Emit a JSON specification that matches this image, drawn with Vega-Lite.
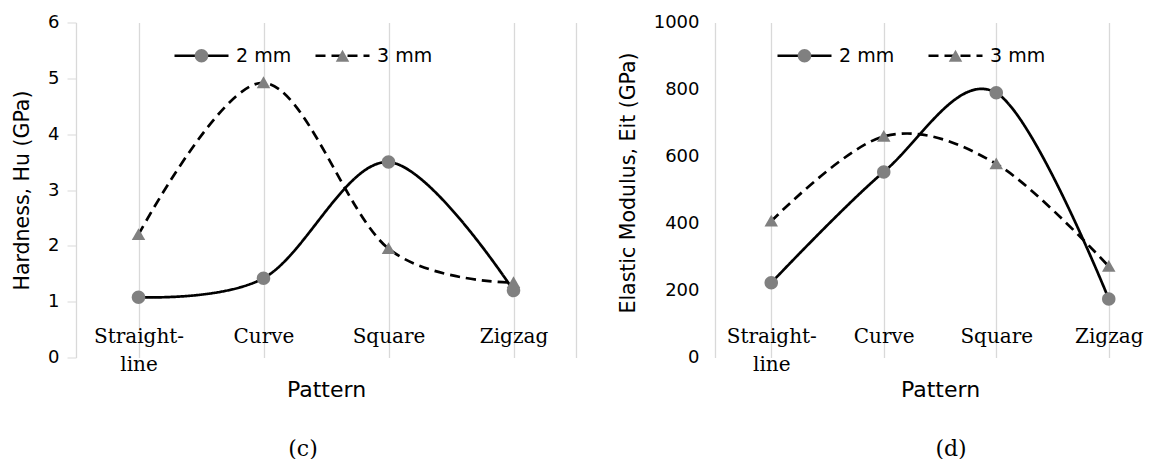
{
  "$schema": "https://vega.github.io/schema/vega-lite/v6.json",
  "padding": {"left": 12, "top": 13.5, "right": 0, "bottom": 0},
  "spacing": 42,
  "datasets": {
    "hard": [
      {"pattern": "Straight-line", "series": "3 mm", "value": 2.2},
      {"pattern": "Curve", "series": "3 mm", "value": 4.92},
      {"pattern": "Square", "series": "3 mm", "value": 1.95},
      {"pattern": "Zigzag", "series": "3 mm", "value": 1.34},
      {"pattern": "Straight-line", "series": "2 mm", "value": 1.08},
      {"pattern": "Curve", "series": "2 mm", "value": 1.42},
      {"pattern": "Square", "series": "2 mm", "value": 3.5},
      {"pattern": "Zigzag", "series": "2 mm", "value": 1.2}
    ],
    "modulus": [
      {"pattern": "Straight-line", "series": "3 mm", "value": 407},
      {"pattern": "Curve", "series": "3 mm", "value": 660},
      {"pattern": "Square", "series": "3 mm", "value": 578},
      {"pattern": "Zigzag", "series": "3 mm", "value": 272},
      {"pattern": "Straight-line", "series": "2 mm", "value": 223},
      {"pattern": "Curve", "series": "2 mm", "value": 554},
      {"pattern": "Square", "series": "2 mm", "value": 790},
      {"pattern": "Zigzag", "series": "2 mm", "value": 175}
    ]
  },
  "hconcat": [
    {
      "width": 500,
      "height": 335,
      "data": {"name": "hard"},
      "title": {"text": "(c)", "orient": "bottom", "anchor": "middle", "frame": "group", "dx": -23, "offset": 38, "font": "DejaVu Serif", "fontSize": 22, "fontWeight": "normal", "color": "#000000"},
      "encoding": {
        "x": {
          "field": "pattern", "type": "nominal", "sort": ["Straight-line", "Curve", "Square", "Zigzag"],
          "scale": {"paddingInner": 0, "paddingOuter": 0},
          "axis": {"title": "Pattern", "bandPosition": 0, "grid": true, "gridColor": "#d9d9d9", "gridWidth": 1.3, "domain": false, "ticks": false, "labelAngle": 0, "labelFont": "DejaVu Serif", "labelFontSize": 20, "labelColor": "#000000", "labelPadding": -31, "labelLineHeight": 28, "labelExpr": "datum.value == 'Straight-line' ? ['Straight-', 'line'] : datum.label", "titleFont": "DejaVu Sans", "titleFontSize": 22, "titleFontWeight": "normal", "titleColor": "#000000", "titlePadding": 5}
        },
        "y": {"field": "value", "type": "quantitative", "scale": {"domain": [0, 6], "nice": false}}
      },
      "layer": [
        {
          "mark": {"type": "line", "interpolate": "cardinal", "color": "#000000", "strokeWidth": 2.7},
          "encoding": {
            "y": {"field": "value", "type": "quantitative", "axis": {"title": "Hardness, Hu (GPa)", "values": [0, 1, 2, 3, 4, 5, 6], "grid": false, "domainColor": "#d9d9d9", "domainWidth": 1.3, "tickColor": "#d9d9d9", "tickSize": 9, "labelPadding": 8, "labelFont": "DejaVu Sans", "labelFontSize": 18, "labelColor": "#000000", "titleFont": "DejaVu Sans", "titleFontSize": 20.5, "titleFontWeight": "normal", "titleColor": "#000000", "titlePadding": 15}},
            "strokeDash": {"field": "series", "type": "nominal", "scale": {"domain": ["2 mm", "3 mm"], "range": [[1, 0], [10, 6]]},
              "legend": {"orient": "none", "legendX": 97, "legendY": 4.5, "direction": "horizontal", "title": null, "symbolType": "stroke", "symbolSize": 2916, "symbolStrokeWidth": 2.7, "symbolStrokeColor": "#000000", "labelFont": "DejaVu Sans", "labelFontSize": 19, "labelColor": "#000000", "labelOffset": 6, "columnPadding": 18, "zindex": 1}}
          }
        },
        {
          "mark": {"type": "point", "filled": true, "color": "#808080", "opacity": 1, "size": 2916, "strokeWidth": 0},
          "encoding": {
            "y": {"field": "value", "type": "quantitative", "axis": {"orient": "right", "title": null, "labels": false, "ticks": false, "grid": false, "domainColor": "#d9d9d9", "domainWidth": 1.3}},
            "shape": {"field": "series", "type": "nominal", "scale": {"range": ["M-0.25,0A0.25,0.25 0 1,1 0.25,0A0.25,0.25 0 1,1 -0.25,0Z", "M0,-0.24L0.25,0.2L-0.25,0.2Z"]},
              "legend": {"orient": "none", "legendX": 97, "legendY": 4.5, "direction": "horizontal", "title": null, "symbolSize": 2916, "symbolStrokeWidth": 2.7, "symbolStrokeColor": "transparent", "symbolFillColor": "#808080", "symbolOpacity": 1, "labelFont": "DejaVu Sans", "labelFontSize": 19, "labelExpr": "''", "labelOffset": -28.5, "columnPadding": 100, "zindex": 2}}
          }
        }
      ],
      "resolve": {"axis": {"y": "independent"}}
    },
    {
      "width": 450,
      "height": 335,
      "data": {"name": "modulus"},
      "title": {"text": "(d)", "orient": "bottom", "anchor": "middle", "frame": "group", "dx": 11, "offset": 38, "font": "DejaVu Serif", "fontSize": 22, "fontWeight": "normal", "color": "#000000"},
      "encoding": {
        "x": {
          "field": "pattern", "type": "nominal", "sort": ["Straight-line", "Curve", "Square", "Zigzag"],
          "scale": {"paddingInner": 0, "paddingOuter": 0},
          "axis": {"title": "Pattern", "bandPosition": 0, "grid": true, "gridColor": "#d9d9d9", "gridWidth": 1.3, "domain": false, "ticks": false, "labelAngle": 0, "labelFont": "DejaVu Serif", "labelFontSize": 20, "labelColor": "#000000", "labelPadding": -31, "labelLineHeight": 28, "labelExpr": "datum.value == 'Straight-line' ? ['Straight-', 'line'] : datum.label", "titleFont": "DejaVu Sans", "titleFontSize": 22, "titleFontWeight": "normal", "titleColor": "#000000", "titlePadding": 5}
        },
        "y": {"field": "value", "type": "quantitative", "scale": {"domain": [0, 1000], "nice": false},
          "axis": {"title": "Elastic Modulus, Eit (GPa)", "values": [0, 200, 400, 600, 800, 1000], "format": "d", "grid": false, "domainColor": "#d9d9d9", "domainWidth": 1.3, "ticks": false, "labelPadding": 16, "labelFont": "DejaVu Sans", "labelFontSize": 18, "labelColor": "#000000", "titleFont": "DejaVu Sans", "titleFontSize": 20.5, "titleFontWeight": "normal", "titleColor": "#000000", "titlePadding": 15, "titleY": 160}}
      },
      "layer": [
        {
          "mark": {"type": "line", "interpolate": "cardinal", "color": "#000000", "strokeWidth": 2.7},
          "encoding": {
            "strokeDash": {"field": "series", "type": "nominal", "scale": {"domain": ["2 mm", "3 mm"], "range": [[1, 0], [10, 6]]},
              "legend": {"orient": "none", "legendX": 61, "legendY": 4.5, "direction": "horizontal", "title": null, "symbolType": "stroke", "symbolSize": 2916, "symbolStrokeWidth": 2.7, "symbolStrokeColor": "#000000", "labelFont": "DejaVu Sans", "labelFontSize": 19, "labelColor": "#000000", "labelOffset": 6, "columnPadding": 28, "zindex": 1}}
          }
        },
        {
          "mark": {"type": "point", "filled": true, "color": "#808080", "opacity": 1, "size": 2916, "strokeWidth": 0},
          "encoding": {
            "shape": {"field": "series", "type": "nominal", "scale": {"range": ["M-0.25,0A0.25,0.25 0 1,1 0.25,0A0.25,0.25 0 1,1 -0.25,0Z", "M0,-0.24L0.25,0.2L-0.25,0.2Z"]},
              "legend": {"orient": "none", "legendX": 61, "legendY": 4.5, "direction": "horizontal", "title": null, "symbolSize": 2916, "symbolStrokeWidth": 2.7, "symbolStrokeColor": "transparent", "symbolFillColor": "#808080", "symbolOpacity": 1, "labelFont": "DejaVu Sans", "labelFontSize": 19, "labelExpr": "''", "labelOffset": -28.5, "columnPadding": 110, "zindex": 2}}
          }
        }
      ]
    }
  ],
  "resolve": {"scale": {"shape": "independent", "strokeDash": "independent"}},
  "config": {
    "view": {"stroke": null},
    "background": "#ffffff"
  }
}
